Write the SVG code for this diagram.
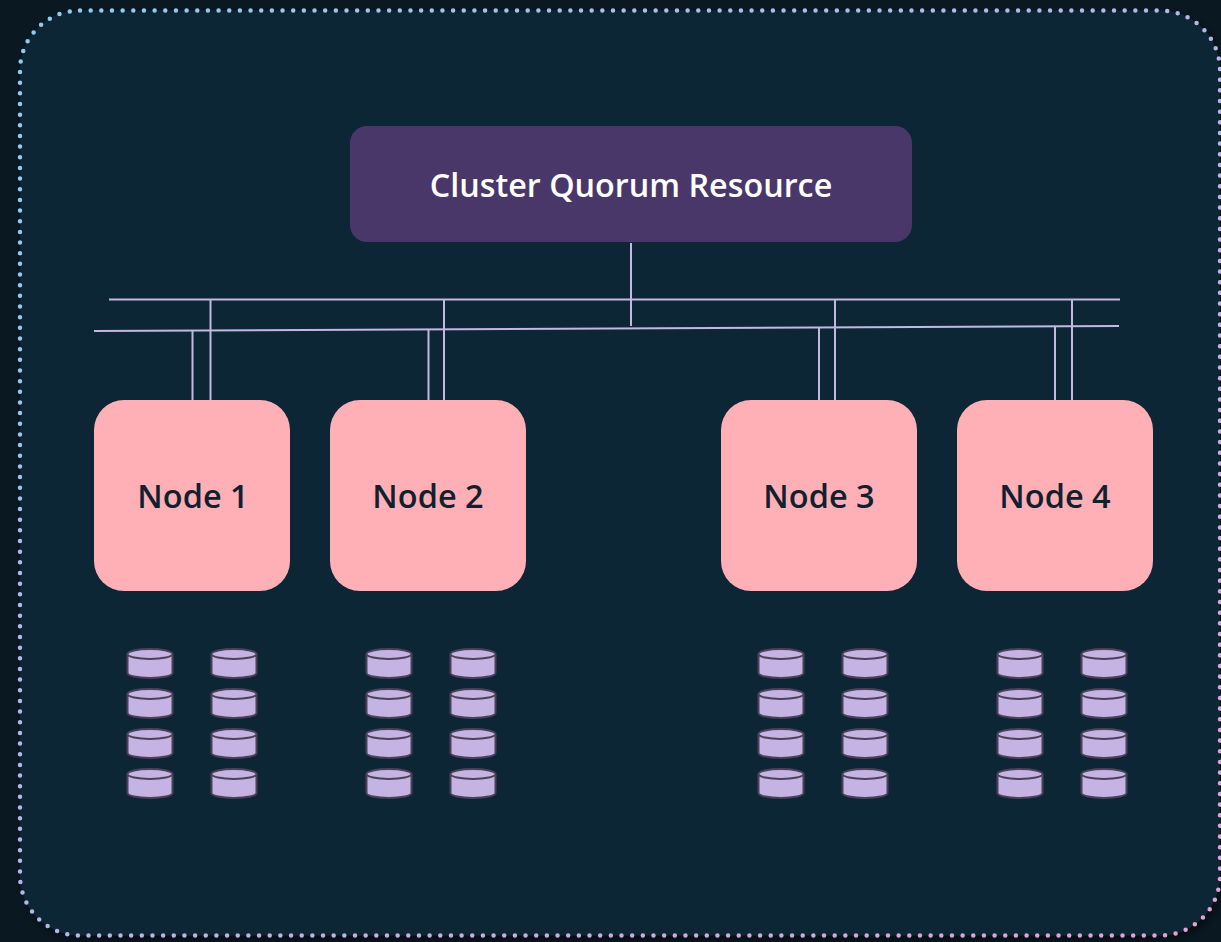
<svg xmlns="http://www.w3.org/2000/svg" width="1221" height="942" viewBox="0 0 1221 942">
<defs>
<linearGradient id="bord" x1="0" y1="0" x2="1" y2="1">
<stop offset="0" stop-color="#8ecdf0"/>
<stop offset="0.5" stop-color="#b7b4e6"/>
<stop offset="1" stop-color="#e2a0d8"/>
</linearGradient>
<filter id="sh" x="-5%" y="-5%" width="110%" height="110%">
<feDropShadow dx="3" dy="4" stdDeviation="5" flood-color="#000" flood-opacity="0.5"/>
</filter>
<g id="disk">
<path d="M-22.5,5 v19 a22.5,5 0 0 0 45,0 v-19" class="cyl"/>
<ellipse cx="0" cy="5" rx="22.5" ry="5" class="cyl"/>
</g>
<g id="stack">
<use href="#disk" x="0" y="649"/>
<use href="#disk" x="0" y="689"/>
<use href="#disk" x="0" y="729"/>
<use href="#disk" x="0" y="769"/>
</g>
</defs>
<style>
.cyl{fill:#c5b3e3;stroke:#4b4159;stroke-width:2}
.ln{stroke:#c2b8e2;stroke-width:2;fill:none}
.node rect{fill:#ffb0b7}
.node text{font-family:"Open Sans","Noto Sans",sans-serif;font-weight:600;font-size:32.5px;fill:#10202e;text-anchor:middle}
.top text{font-family:"Open Sans","Noto Sans",sans-serif;font-weight:600;font-size:32.3px;fill:#ffffff;text-anchor:middle}
</style>
<rect x="0" y="0" width="1221" height="942" fill="#0a1822"/>
<rect x="20" y="10.5" width="1200" height="925" rx="60" fill="#112735" filter="url(#sh)"/>
<rect x="20" y="10.5" width="1200" height="925" rx="60" fill="none" stroke="url(#bord)" stroke-width="4.5" stroke-linecap="round" stroke-dasharray="0 10.66"/>

<g id="connectors">
<line class="ln" x1="109" y1="299.5" x2="1120" y2="299.5"/>
<line class="ln" x1="94" y1="331" x2="1119" y2="326"/>
<line class="ln" x1="631" y1="243" x2="631" y2="326"/>
<line class="ln" x1="192.5" y1="330.5" x2="192.5" y2="400"/>
<line class="ln" x1="210.5" y1="299.5" x2="210.5" y2="400"/>
<line class="ln" x1="428.5" y1="329.5" x2="428.5" y2="400"/>
<line class="ln" x1="444" y1="299.5" x2="444" y2="400"/>
<line class="ln" x1="819" y1="327.5" x2="819" y2="400"/>
<line class="ln" x1="835" y1="299.5" x2="835" y2="400"/>
<line class="ln" x1="1055" y1="326.5" x2="1055" y2="400"/>
<line class="ln" x1="1072" y1="299.5" x2="1072" y2="400"/>
</g>

<g id="quorum" class="top">
<rect x="350" y="126" width="562" height="116" rx="17" fill="#4a376a"/>
<text x="631" y="197">Cluster Quorum Resource</text>
</g>

<g id="node1" class="node">
<rect x="94" y="400" width="196" height="191" rx="30"/>
<text x="193" y="508">Node 1</text>
</g>
<g id="node2" class="node">
<rect x="330" y="400" width="196" height="191" rx="30"/>
<text x="428" y="508">Node 2</text>
</g>
<g id="node3" class="node">
<rect x="721" y="400" width="196" height="191" rx="30"/>
<text x="819" y="508">Node 3</text>
</g>
<g id="node4" class="node">
<rect x="957" y="400" width="196" height="191" rx="30"/>
<text x="1055" y="508">Node 4</text>
</g>

<g id="disks1">
<use href="#stack" x="150"/>
<use href="#stack" x="234"/>
</g>
<g id="disks2">
<use href="#stack" x="389"/>
<use href="#stack" x="473"/>
</g>
<g id="disks3">
<use href="#stack" x="781"/>
<use href="#stack" x="865"/>
</g>
<g id="disks4">
<use href="#stack" x="1020"/>
<use href="#stack" x="1104"/>
</g>
</svg>
